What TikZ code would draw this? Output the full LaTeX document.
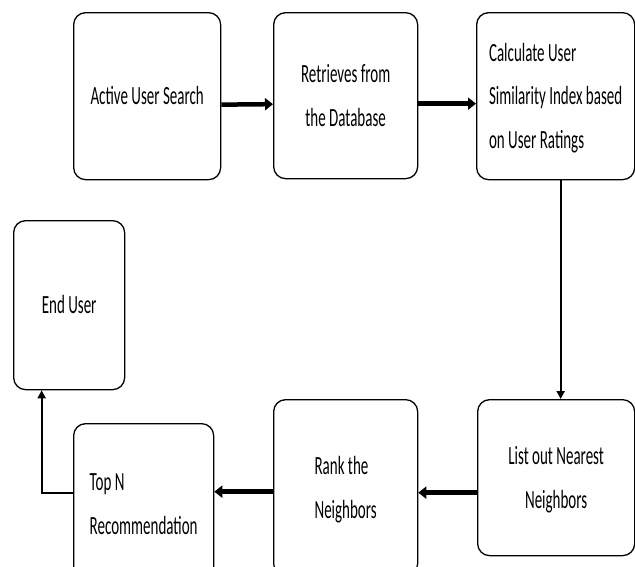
\documentclass[tikz,border=0pt]{standalone}
\usepackage{fontspec}
\setmainfont{Carlito}
\usepackage{graphicx}
\usetikzlibrary{arrows.meta,positioning}

% text of the boxes is drawn tall and narrow
\newcommand{\tallstack}[2][c]{\scalebox{1}[1.75]{\begin{tabular}{@{}#1@{}}#2\end{tabular}}}

\begin{document}
\begin{tikzpicture}[
    x=1pt, y=-1pt,
    procbox/.style={
      draw=black, line width=1.3pt,
      rounded corners=12pt,
      fill=white,
      anchor=north west,
      inner sep=0pt,
      font=\fontsize{15}{25}\selectfont
    },
    thickarr/.style={-{Triangle[length=8pt,width=12pt]}, line width=4.5pt, draw=black},
    thinarr/.style={-{Triangle[length=8pt,width=8pt]}, line width=2pt, draw=black}
  ]
  \useasboundingbox (0,0) rectangle (635,566);

  % Top row
  \node[procbox, minimum width=147pt, minimum height=167pt] (act) at (73,12) {\raisebox{9pt}{\tallstack{Active User Search}}};
  \node[procbox, minimum width=144pt, minimum height=166pt] (ret) at (273,12) {\tallstack{Retrieves from\\the Database}};
  \node[procbox, minimum width=158pt, minimum height=167pt] (calc) at (476,12) {\tallstack[l]{Calculate User\\Similarity Index based\\on User Ratings}};

  % Left
  \node[procbox, minimum width=111pt, minimum height=169pt] (enduser) at (13,220) {\raisebox{6pt}{\tallstack{End User}}};

  % Bottom row
  \node[procbox, minimum width=140pt, minimum height=160pt] (topn) at (73,423) {\tallstack[l]{Top N\\Recommendation}};
  \node[procbox, minimum width=144pt, minimum height=176pt] (rank) at (273,399) {\tallstack[l]{Rank the\\Neighbors}};
  \node[procbox, minimum width=157pt, minimum height=156pt] (list) at (477,399) {\tallstack{List out Nearest\\Neighbors}};

  % Connectors
  \draw[thickarr] ([yshift=-8.5pt]act.east) -- ([yshift=-8.5pt]ret.west);
  \draw[thickarr] ([yshift=-8pt]ret.west -| ret.east) -- ([yshift=-7.5pt]calc.west);
  \draw[thinarr]  ([xshift=5pt]calc.south) -- ([xshift=4.5pt]list.north);

  \coordinate (lr) at ([yshift=-15pt]list.west);
  \draw[thickarr] (lr) -- (lr -| rank.east);

  \coordinate (rt) at ([yshift=-4pt]rank.west);
  \draw[thickarr] (rt) -- (rt -| topn.east);

  \coordinate (te) at ([yshift=11pt]topn.west);
  \draw[thinarr]  (te) -| ([xshift=-27.5pt]enduser.south);

\end{tikzpicture}
\end{document}
